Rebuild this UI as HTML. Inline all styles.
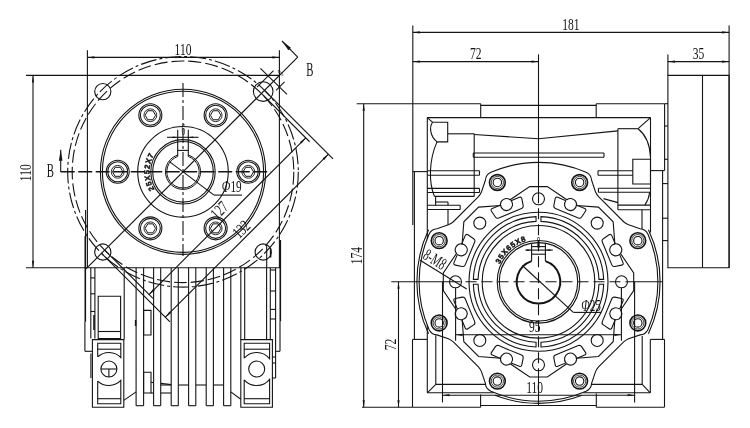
<!DOCTYPE html>
<html><head><meta charset="utf-8"><title>Gearbox outline drawing</title>
<style>
html,body{margin:0;padding:0;background:#fff;}
body{width:750px;height:428px;overflow:hidden;}
svg{display:block;filter:grayscale(1);}
svg *{vector-effect:none;}
.g line,.g circle,.g path,.g polyline{fill:none;stroke:#141414;stroke-width:1.1;}
.g .fl{fill:#141414;stroke:none;}
.g text{fill:#141414;stroke:none;font-family:"Liberation Serif","DejaVu Serif",serif;}
.g text.b{font-family:"Liberation Sans","DejaVu Sans",sans-serif;font-weight:bold;stroke:#141414;stroke-width:0.45;}
</style></head>
<body>
<svg width="750" height="428" viewBox="0 0 750 428">
<rect x="0" y="0" width="750" height="428" fill="#fff"/>
<g class="g">
<!-- left view -->
<line x1="87.4" y1="50.3" x2="87.4" y2="267.8"/>
<line x1="279.4" y1="50.3" x2="279.4" y2="267.8"/>
<line x1="280.3" y1="240" x2="280.3" y2="321.5" style="stroke-width:1.6"/>
<line x1="280" y1="321.5" x2="280" y2="351.3"/>
<line x1="26" y1="75.4" x2="279.4" y2="75.4"/>
<line x1="26" y1="267.8" x2="280.4" y2="267.8"/>
<line x1="87.4" y1="57.4" x2="279.4" y2="57.4"/>
<polygon class="fl" points="87.4,57.4 94.4,56.3 94.4,58.5"/>
<polygon class="fl" points="279.4,57.4 272.4,58.5 272.4,56.3"/>
<text class="t" transform="translate(183 54.9) scale(0.68 1)" font-size="17" text-anchor="middle">110</text>
<line x1="33" y1="75.4" x2="33" y2="267.8"/>
<polygon class="fl" points="33,75.4 34.1,82.4 31.9,82.4"/>
<polygon class="fl" points="33,267.8 31.9,260.8 34.1,260.8"/>
<text class="t" transform="translate(31 172.7) rotate(-90) scale(0.68 1)" font-size="17" text-anchor="middle">110</text>
<circle cx="183" cy="171.8" r="115.3" stroke-dasharray="16 3 3 3"/>
<circle cx="183" cy="171.8" r="110.8" stroke-dasharray="13 4"/>
<circle cx="183" cy="171.8" r="82.6"/>
<circle cx="183" cy="171.8" r="80.6"/>
<circle cx="183" cy="171.8" r="45.3"/>
<circle cx="183" cy="171.8" r="32.2"/>
<circle cx="183" cy="171.8" r="30.3"/>
<path d="M188.3 155.02A17.6 17.6 0 1 1 177.7 155.02" style="stroke-width:1;"/>
<path d="M188.3 156.49A16.2 16.2 0 1 1 177.7 156.49" style="stroke-width:1;"/>
<line x1="177.7" y1="129.8" x2="177.7" y2="156.49"/>
<line x1="188.3" y1="129.8" x2="188.3" y2="156.49"/>
<line x1="177.7" y1="150.4" x2="188.3" y2="150.4"/>
<line x1="167" y1="137.3" x2="198.5" y2="137.3"/>
<polygon class="fl" points="177.7,137.3 172.7,138.2 172.7,136.4"/>
<polygon class="fl" points="188.3,137.3 193.3,136.4 193.3,138.2"/>
<text class="t" transform="translate(183.3 135) scale(0.42 1)" font-size="17" text-anchor="middle">6</text>
<circle cx="248.3" cy="171.8" r="11.5"/>
<circle cx="248.3" cy="171.8" r="10"/>
<circle cx="248.3" cy="171.8" r="6.4" style="stroke-width:0.9"/>
<path d="M253.5 171.8L250.9 167.3L245.7 167.3L243.1 171.8L245.7 176.3L250.9 176.3Z" style="stroke-width:1;"/>
<circle cx="215.65" cy="115.25" r="11.5"/>
<circle cx="215.65" cy="115.25" r="10"/>
<circle cx="215.65" cy="115.25" r="6.4" style="stroke-width:0.9"/>
<path d="M220.85 115.25L218.25 110.75L213.05 110.75L210.45 115.25L213.05 119.75L218.25 119.75Z" style="stroke-width:1;"/>
<circle cx="150.35" cy="115.25" r="11.5"/>
<circle cx="150.35" cy="115.25" r="10"/>
<circle cx="150.35" cy="115.25" r="6.4" style="stroke-width:0.9"/>
<path d="M155.55 115.25L152.95 110.75L147.75 110.75L145.15 115.25L147.75 119.75L152.95 119.75Z" style="stroke-width:1;"/>
<circle cx="117.7" cy="171.8" r="11.5"/>
<circle cx="117.7" cy="171.8" r="10"/>
<circle cx="117.7" cy="171.8" r="6.4" style="stroke-width:0.9"/>
<path d="M122.9 171.8L120.3 167.3L115.1 167.3L112.5 171.8L115.1 176.3L120.3 176.3Z" style="stroke-width:1;"/>
<circle cx="150.35" cy="228.35" r="11.5"/>
<circle cx="150.35" cy="228.35" r="10"/>
<circle cx="150.35" cy="228.35" r="6.4" style="stroke-width:0.9"/>
<path d="M155.55 228.35L152.95 223.85L147.75 223.85L145.15 228.35L147.75 232.85L152.95 232.85Z" style="stroke-width:1;"/>
<circle cx="215.65" cy="228.35" r="11.5"/>
<circle cx="215.65" cy="228.35" r="10"/>
<circle cx="215.65" cy="228.35" r="6.4" style="stroke-width:0.9"/>
<path d="M220.85 228.35L218.25 223.85L213.05 223.85L210.45 228.35L213.05 232.85L218.25 232.85Z" style="stroke-width:1;"/>
<circle cx="102.8" cy="91.6" r="8.1"/>
<circle cx="102.8" cy="252" r="8.1"/>
<circle cx="263.2" cy="91.6" r="9.8"/>
<circle cx="263.2" cy="252" r="8.1"/>
<line x1="266.7" y1="244.6" x2="266.7" y2="267.8"/>
<line x1="270.6" y1="248.5" x2="270.6" y2="257.5" style="stroke-width:1.5"/>
<line x1="60.7" y1="171.8" x2="271" y2="171.8" style="stroke-width:1.4" stroke-dasharray="14 3.5"/>
<line x1="183" y1="83" x2="183" y2="256" stroke-dasharray="14 3 3 3"/>
<line x1="86" y1="268.8" x2="297.7" y2="57.2"/>
<line x1="297.7" y1="57.2" x2="282" y2="41"/>
<polygon class="fl" points="282,41 290.95,47.65 288.36,50.15"/>
<text class="t" transform="translate(309.8 75.7) scale(0.58 1)" font-size="18.5" text-anchor="middle">B</text>
<line x1="60.7" y1="172" x2="60.7" y2="149.7"/>
<polygon class="fl" points="60.7,149.7 62.5,160.7 58.9,160.7"/>
<text class="t" transform="translate(50.4 176.9) scale(0.58 1)" font-size="18.5" text-anchor="middle">B</text>
<line x1="260.4" y1="68.3" x2="287" y2="94.3"/>
<line x1="257" y1="87.2" x2="273.5" y2="70.6"/>
<line x1="276" y1="90.4" x2="284.5" y2="81.9"/>
<text class="t" transform="translate(283.2 75.6) rotate(-45) scale(0.45 1)" font-size="11" text-anchor="middle">0</text>
<line x1="261.35" y1="93.45" x2="309.64" y2="141.74"/>
<line x1="104.65" y1="250.15" x2="152.94" y2="298.44"/>
<line x1="149.05" y1="294.55" x2="305.75" y2="137.85"/>
<polygon class="fl" points="305.75,137.85 301.58,143.58 300.02,142.02"/>
<polygon class="fl" points="149.05,294.55 153.22,288.82 154.78,290.38"/>
<line x1="264.53" y1="90.27" x2="333.03" y2="158.77"/>
<line x1="101.47" y1="253.33" x2="169.97" y2="321.83"/>
<line x1="165.37" y1="317.23" x2="328.43" y2="154.17"/>
<polygon class="fl" points="328.43,154.17 324.26,159.9 322.7,158.34"/>
<polygon class="fl" points="165.37,317.23 169.54,311.5 171.1,313.06"/>
<text class="t" transform="translate(223.3 214.3) rotate(-45) scale(0.68 1)" font-size="17" text-anchor="middle">127</text>
<text class="t" transform="translate(245.3 233.2) rotate(-45) scale(0.68 1)" font-size="17" text-anchor="middle">132</text>
<line x1="169.4" y1="161.6" x2="214" y2="195.1"/>
<line x1="214" y1="195.1" x2="242" y2="195.1"/>
<text class="t" transform="translate(241.6 192.3) scale(0.66 1)" font-size="17" text-anchor="end"><tspan font-style="italic">Φ</tspan>19</text>
<path id="cv1" d="M154.44 189.3A33.5 33.5 0 0 1 157.34 150.27" style="stroke:none"/>
<text class="b" font-size="7.6" letter-spacing="0.75"><textPath href="#cv1">25X52X7</textPath></text>
<line x1="136.1" y1="267.8" x2="136.1" y2="405.7"/>
<line x1="143.6" y1="267.8" x2="143.6" y2="405.7"/>
<line x1="136.1" y1="405.7" x2="143.6" y2="405.7"/>
<line x1="153.6" y1="267.8" x2="153.6" y2="405.7"/>
<line x1="160.7" y1="267.8" x2="160.7" y2="405.7"/>
<line x1="153.6" y1="405.7" x2="160.7" y2="405.7"/>
<line x1="171.2" y1="267.8" x2="171.2" y2="405.7"/>
<line x1="178.3" y1="267.8" x2="178.3" y2="405.7"/>
<line x1="171.2" y1="405.7" x2="178.3" y2="405.7"/>
<line x1="188.6" y1="267.8" x2="188.6" y2="405.7"/>
<line x1="195.8" y1="267.8" x2="195.8" y2="405.7"/>
<line x1="188.6" y1="405.7" x2="195.8" y2="405.7"/>
<line x1="206.2" y1="267.8" x2="206.2" y2="405.7"/>
<line x1="213.4" y1="267.8" x2="213.4" y2="405.7"/>
<line x1="206.2" y1="405.7" x2="213.4" y2="405.7"/>
<line x1="223.6" y1="267.8" x2="223.6" y2="405.7"/>
<line x1="230.8" y1="267.8" x2="230.8" y2="405.7"/>
<line x1="223.6" y1="405.7" x2="230.8" y2="405.7"/>
<line x1="160.7" y1="385" x2="171.2" y2="385"/>
<line x1="178.3" y1="385" x2="188.6" y2="385"/>
<line x1="195.8" y1="385" x2="206.2" y2="385"/>
<line x1="213.4" y1="385" x2="223.6" y2="385"/>
<path d="M143.6 310.4H151V335H143.6Z"/>
<path d="M143.6 372.2H151V393H143.6Z"/>
<line x1="151" y1="382.3" x2="153.6" y2="382.6"/>
<line x1="160.7" y1="383.4" x2="171.2" y2="384.6"/>
<line x1="151" y1="393" x2="153.6" y2="393"/>
<line x1="160.7" y1="393" x2="171.2" y2="393"/>
<line x1="135.6" y1="320" x2="135.6" y2="326" style="stroke-width:1.5"/>
<line x1="123.8" y1="400.4" x2="136.1" y2="391.9"/>
<line x1="230.8" y1="391.9" x2="240.8" y2="399.3"/>
<line x1="85.6" y1="210" x2="85.6" y2="238"/>
<line x1="85.3" y1="236" x2="85.3" y2="321.8" style="stroke-width:1.6"/>
<line x1="84.9" y1="321.8" x2="84.9" y2="351.3"/>
<line x1="84.9" y1="351.3" x2="92.4" y2="351.3"/>
<line x1="90.8" y1="267.8" x2="90.8" y2="338.6"/>
<line x1="94.9" y1="267.8" x2="94.9" y2="338.6"/>
<line x1="90.8" y1="277.9" x2="94.9" y2="277.9"/>
<line x1="90.8" y1="293.8" x2="94.9" y2="293.8"/>
<line x1="90.8" y1="311.5" x2="94.9" y2="311.5"/>
<line x1="94" y1="315" x2="94" y2="330" style="stroke-width:1.6"/>
<line x1="90.9" y1="353.5" x2="90.9" y2="378"/>
<path d="M98.2 296.2H120.6V338.6H98.2Z"/>
<line x1="98.2" y1="331.5" x2="120.6" y2="331.5"/>
<line x1="124.2" y1="267.8" x2="124.2" y2="339.6"/>
<line x1="240.8" y1="267.8" x2="240.8" y2="339.6"/>
<line x1="244.7" y1="267.8" x2="244.7" y2="339.6"/>
<line x1="266.6" y1="267.8" x2="266.6" y2="339.6"/>
<line x1="270.3" y1="267.8" x2="270.3" y2="339.6"/>
<line x1="275.6" y1="267.8" x2="275.6" y2="378"/>
<line x1="270.3" y1="270" x2="275.6" y2="270"/>
<line x1="270.3" y1="291" x2="275.6" y2="291"/>
<line x1="270.3" y1="309.4" x2="275.6" y2="309.4"/>
<line x1="270.3" y1="319" x2="275.6" y2="319"/>
<line x1="272.4" y1="357" x2="275.6" y2="357"/>
<line x1="272.4" y1="363" x2="275.6" y2="363"/>
<line x1="272.4" y1="378" x2="275.6" y2="378"/>
<line x1="275.6" y1="351.3" x2="280" y2="351.3"/>
<path d="M92.4 339.6H123.8V407.2H92.4Z"/>
<path d="M97.7 356.88V343.2H120.8V357.57A16.5 16.5 0 0 0 97.7 356.88"/>
<line x1="97.7" y1="349.2" x2="120.8" y2="349.2"/>
<path d="M97.7 381.12V403.8H120.8V380.43A16.5 16.5 0 0 1 97.7 381.12"/>
<line x1="97.7" y1="398.7" x2="120.8" y2="398.7"/>
<circle cx="108.9" cy="369" r="8"/>
<line x1="100.9" y1="369" x2="116.9" y2="369"/>
<line x1="108.9" y1="369" x2="108.9" y2="377"/>
<path d="M240.8 339.6H272.4V407.2H240.8Z"/>
<path d="M244.2 358.23V343.2H269.6V358.71A16.5 16.5 0 0 0 244.2 358.23"/>
<line x1="244.2" y1="349.2" x2="269.6" y2="349.2"/>
<path d="M244.2 379.77V403.8H269.6V379.29A16.5 16.5 0 0 1 244.2 379.77"/>
<line x1="244.2" y1="398.7" x2="269.6" y2="398.7"/>
<circle cx="256.7" cy="369" r="8"/>
<!-- right view -->
<path d="M667.9 75.4H729.1V267.7H667.9Z"/>
<line x1="702.5" y1="75.4" x2="702.5" y2="267.7"/>
<line x1="412.8" y1="103.7" x2="480.7" y2="103.7"/>
<line x1="480.7" y1="103.7" x2="480.7" y2="117.6"/>
<line x1="480.7" y1="105.4" x2="596.2" y2="105.4"/>
<line x1="596.2" y1="103.7" x2="596.2" y2="117.6"/>
<line x1="596.2" y1="103.7" x2="664.6" y2="103.7"/>
<line x1="427.3" y1="117.6" x2="650.5" y2="117.6"/>
<line x1="412.8" y1="171.6" x2="427.3" y2="171.6"/>
<line x1="427.3" y1="117.6" x2="427.3" y2="392.8"/>
<line x1="427.3" y1="117.6" x2="432.7" y2="122.3"/>
<path d="M432.7 122.3H447.7V141.9H437C429.8 136 429.3 127 432.5 122.3"/>
<path d="M437 141.9C429 160 428.5 182 434.4 196.4"/>
<line x1="447.7" y1="133.8" x2="474.2" y2="133.8"/>
<line x1="474.2" y1="133.8" x2="474.2" y2="196.4"/>
<line x1="434.4" y1="196.4" x2="474.2" y2="196.4"/>
<path d="M474.2 134.5L538.5 138.7L617.9 130.9"/>
<line x1="473.3" y1="153" x2="604" y2="153"/>
<line x1="473.3" y1="157.3" x2="604" y2="157.3"/>
<line x1="473.3" y1="153" x2="473.3" y2="157.3"/>
<line x1="604" y1="153" x2="604" y2="157.3"/>
<line x1="427.3" y1="170.8" x2="479.5" y2="170.8"/>
<line x1="427.3" y1="175.2" x2="479.5" y2="175.2"/>
<line x1="479.5" y1="170.8" x2="479.5" y2="175.2"/>
<line x1="427.3" y1="188.4" x2="479.5" y2="188.4"/>
<line x1="427.3" y1="192.5" x2="479.5" y2="192.5"/>
<line x1="479.5" y1="188.4" x2="479.5" y2="192.5"/>
<line x1="427.3" y1="205.2" x2="460.2" y2="205.2"/>
<line x1="427.3" y1="209.5" x2="460.2" y2="209.5"/>
<line x1="460.2" y1="205.2" x2="460.2" y2="209.5"/>
<line x1="435.6" y1="196.4" x2="435.6" y2="205.2"/>
<line x1="435.6" y1="202" x2="448" y2="202"/>
<line x1="448" y1="202" x2="448" y2="205.2"/>
<line x1="448" y1="209.5" x2="448" y2="228"/>
<line x1="664.6" y1="103.7" x2="664.6" y2="170.6"/>
<line x1="650.5" y1="117.6" x2="650.5" y2="232.5"/>
<line x1="650.5" y1="117.6" x2="638.1" y2="128.7"/>
<line x1="617.9" y1="128.7" x2="638.1" y2="128.7"/>
<line x1="617.9" y1="128.7" x2="617.9" y2="209.8"/>
<path d="M638.1 128.7C646 135 650 146 650.5 157"/>
<path d="M632.8 159.3H650.5V184H632.8Z"/>
<line x1="598" y1="170.7" x2="632.8" y2="170.7"/>
<line x1="598" y1="175.2" x2="632.8" y2="175.2"/>
<line x1="598" y1="170.7" x2="598" y2="175.2"/>
<line x1="650.5" y1="170.6" x2="664.6" y2="170.6"/>
<line x1="662.6" y1="170.6" x2="662.6" y2="339.4"/>
<line x1="598.4" y1="188.3" x2="650.5" y2="188.3"/>
<line x1="598.4" y1="192.2" x2="650.5" y2="192.2"/>
<line x1="598.4" y1="188.3" x2="598.4" y2="192.2"/>
<line x1="603.5" y1="198.6" x2="617.9" y2="202.6"/>
<path d="M649.7 192.2C649 198 647 202 644.9 205.1"/>
<line x1="617.9" y1="205.1" x2="650.5" y2="205.1"/>
<line x1="617.9" y1="209.8" x2="650.5" y2="209.8"/>
<line x1="642" y1="209.8" x2="642" y2="230.5"/>
<line x1="664.6" y1="103.7" x2="667.9" y2="103.7"/>
<line x1="664.6" y1="126" x2="667.9" y2="126"/>
<line x1="664.6" y1="159.3" x2="667.9" y2="159.3"/>
<line x1="662.6" y1="183.6" x2="667.9" y2="183.6"/>
<line x1="662.6" y1="218.2" x2="667.9" y2="218.2"/>
<line x1="662.6" y1="240.6" x2="667.9" y2="240.6"/>
<line x1="650.3" y1="339.4" x2="664.5" y2="339.4"/>
<line x1="664.5" y1="339.4" x2="664.5" y2="407.2"/>
<line x1="650.3" y1="339.4" x2="650.3" y2="392.8"/>
<line x1="642.2" y1="336" x2="642.2" y2="384.4"/>
<line x1="412.5" y1="339.4" x2="427.3" y2="339.4"/>
<line x1="435.8" y1="335.2" x2="435.8" y2="384.4"/>
<line x1="412.8" y1="407.2" x2="480.6" y2="407.2"/>
<line x1="480.6" y1="394.4" x2="480.6" y2="407.2"/>
<line x1="480.6" y1="405.5" x2="596.3" y2="405.5"/>
<line x1="596.3" y1="393.6" x2="596.3" y2="407.2"/>
<line x1="596.3" y1="407.2" x2="664.5" y2="407.2"/>
<line x1="427.3" y1="392.8" x2="494" y2="392.8"/>
<line x1="583" y1="392.8" x2="650.3" y2="392.8"/>
<line x1="435.8" y1="384.4" x2="485.6" y2="384.4"/>
<line x1="591.4" y1="384.4" x2="642.2" y2="384.4"/>
<line x1="435.8" y1="384.4" x2="427.3" y2="392.8"/>
<line x1="642.2" y1="384.4" x2="650.3" y2="392.8"/>
<path d="M648 329.41A119.4 119.4 0 0 0 648 234.19Q645.45 228.94 640.06 228.71L628.6 224.84Q625.96 223.69 623.65 221.74L598.56 196.65Q596.61 194.34 595.46 191.7L591.59 180.24Q591.36 174.85 586.11 172.3L586.11 172.3A119.4 119.4 0 0 0 490.89 172.3Q485.64 174.85 485.41 180.24L481.54 191.7Q480.39 194.34 478.44 196.65L453.35 221.74Q451.04 223.69 448.4 224.84L436.94 228.71Q431.55 228.94 429 234.19L429 234.19A119.4 119.4 0 0 0 429 329.41Q431.55 334.66 436.94 334.89L448.4 338.76Q451.04 339.91 453.35 341.86L478.44 366.95Q480.39 369.26 481.54 371.9L485.41 383.36Q485.64 388.75 490.89 391.3L490.89 391.3A119.4 119.4 0 0 0 586.11 391.3Q591.36 388.75 591.59 383.36L595.46 371.9Q596.61 369.26 598.56 366.95L623.65 341.86Q625.96 339.91 628.6 338.76L640.06 334.89Q645.45 334.66 648 329.41Z" style="fill:#fff;"/>
<path d="M648.44 333.77A121.6 121.6 0 0 0 648.44 229.83"/>
<path d="M428.56 229.83A121.6 121.6 0 0 0 428.56 333.77"/>
<path d="M494.92 395.32A121.6 121.6 0 0 0 582.08 395.32"/>
<path d="M633.7 290.6L633.7 273L620.5 253.46A6 6 0 0 0 614.85 243.87L613.17 221.84L598.46 207.13L576.43 205.45A6 6 0 0 0 566.84 199.8L547.3 186.6L529.7 186.6L510.16 199.8A6 6 0 0 0 500.57 205.45L478.54 207.13L463.83 221.84L462.15 243.87A6 6 0 0 0 456.5 253.46L443.3 273L443.3 290.6L456.5 310.14A6 6 0 0 0 462.15 319.73L463.83 341.76L478.54 356.47L500.57 358.15A6 6 0 0 0 510.16 363.8L529.7 377L547.3 377L566.84 363.8A6 6 0 0 0 576.43 358.15L598.46 356.47L613.17 341.76L614.85 319.73A6 6 0 0 0 620.5 310.14Z"/>
<path d="M615.21 243.83L611.81 235.63Q610.97 233.6 609.1 234.83L603.34 238.69Q601.46 239.92 602.31 241.95L611.8 264.86Q612.64 266.89 614.83 266.44L621.64 265.1Q623.83 264.64 622.99 262.61L619.59 254.41A6 6 0 1 1 615.21 243.83"/>
<path d="M565.89 200.71L557.69 197.31Q555.66 196.47 555.2 198.66L553.86 205.47Q553.41 207.66 555.44 208.5L578.35 217.99Q580.38 218.84 581.61 216.96L585.47 211.2Q586.7 209.33 584.67 208.49L576.47 205.09A6 6 0 1 1 565.89 200.71"/>
<path d="M500.53 205.09L492.33 208.49Q490.3 209.33 491.53 211.2L495.39 216.96Q496.62 218.84 498.65 217.99L521.56 208.5Q523.59 207.66 523.14 205.47L521.8 198.66Q521.34 196.47 519.31 197.31L511.11 200.71A6 6 0 1 1 500.53 205.09"/>
<path d="M457.41 254.41L454.01 262.61Q453.17 264.64 455.36 265.1L462.17 266.44Q464.36 266.89 465.2 264.86L474.69 241.95Q475.54 239.92 473.66 238.69L467.9 234.83Q466.03 233.6 465.19 235.63L461.79 243.83A6 6 0 1 1 457.41 254.41"/>
<path d="M461.79 319.77L465.19 327.97Q466.03 330 467.9 328.77L473.66 324.91Q475.54 323.68 474.69 321.65L465.2 298.74Q464.36 296.71 462.17 297.16L455.36 298.5Q453.17 298.96 454.01 300.99L457.41 309.19A6 6 0 1 1 461.79 319.77"/>
<path d="M511.11 362.89L519.31 366.29Q521.34 367.13 521.8 364.94L523.14 358.13Q523.59 355.94 521.56 355.1L498.65 345.61Q496.62 344.76 495.39 346.64L491.53 352.4Q490.3 354.27 492.33 355.11L500.53 358.51A6 6 0 1 1 511.11 362.89"/>
<path d="M576.47 358.51L584.67 355.11Q586.7 354.27 585.47 352.4L581.61 346.64Q580.38 344.76 578.35 345.61L555.44 355.1Q553.41 355.94 553.86 358.13L555.2 364.94Q555.66 367.13 557.69 366.29L565.89 362.89A6 6 0 1 1 576.47 358.51"/>
<path d="M619.59 309.19L622.99 300.99Q623.83 298.96 621.64 298.5L614.83 297.16Q612.64 296.71 611.8 298.74L602.31 321.65Q601.46 323.68 603.34 324.91L609.1 328.77Q610.97 330 611.81 327.97L615.21 319.77A6 6 0 1 1 619.59 309.19"/>
<circle cx="621.5" cy="281.8" r="6"/>
<circle cx="597.19" cy="223.11" r="6"/>
<circle cx="538.5" cy="198.8" r="6"/>
<circle cx="479.81" cy="223.11" r="6"/>
<circle cx="455.5" cy="281.8" r="6"/>
<circle cx="479.81" cy="340.49" r="6"/>
<circle cx="538.5" cy="364.8" r="6"/>
<circle cx="597.19" cy="340.49" r="6"/>
<circle cx="637.82" cy="240.66" r="7.9" style="stroke-width:1.6"/>
<circle cx="637.82" cy="240.66" r="6.1" style="stroke-width:0.8"/>
<circle cx="637.82" cy="240.66" r="4.2" style="stroke-width:1.1"/>
<circle cx="579.64" cy="182.48" r="7.9" style="stroke-width:1.6"/>
<circle cx="579.64" cy="182.48" r="6.1" style="stroke-width:0.8"/>
<circle cx="579.64" cy="182.48" r="4.2" style="stroke-width:1.1"/>
<circle cx="497.36" cy="182.48" r="7.9" style="stroke-width:1.6"/>
<circle cx="497.36" cy="182.48" r="6.1" style="stroke-width:0.8"/>
<circle cx="497.36" cy="182.48" r="4.2" style="stroke-width:1.1"/>
<circle cx="439.18" cy="240.66" r="7.9" style="stroke-width:1.6"/>
<circle cx="439.18" cy="240.66" r="6.1" style="stroke-width:0.8"/>
<circle cx="439.18" cy="240.66" r="4.2" style="stroke-width:1.1"/>
<circle cx="439.18" cy="322.94" r="7.9" style="stroke-width:1.6"/>
<circle cx="439.18" cy="322.94" r="6.1" style="stroke-width:0.8"/>
<circle cx="439.18" cy="322.94" r="4.2" style="stroke-width:1.1"/>
<circle cx="497.36" cy="381.12" r="7.9" style="stroke-width:1.6"/>
<circle cx="497.36" cy="381.12" r="6.1" style="stroke-width:0.8"/>
<circle cx="497.36" cy="381.12" r="4.2" style="stroke-width:1.1"/>
<circle cx="579.64" cy="381.12" r="7.9" style="stroke-width:1.6"/>
<circle cx="579.64" cy="381.12" r="6.1" style="stroke-width:0.8"/>
<circle cx="579.64" cy="381.12" r="4.2" style="stroke-width:1.1"/>
<circle cx="637.82" cy="322.94" r="7.9" style="stroke-width:1.6"/>
<circle cx="637.82" cy="322.94" r="6.1" style="stroke-width:0.8"/>
<circle cx="637.82" cy="322.94" r="4.2" style="stroke-width:1.1"/>
<circle cx="538.5" cy="281.8" r="69.5"/>
<circle cx="538.5" cy="281.8" r="56.3"/>
<path d="M603.65 279.35A65.2 65.2 0 0 0 540.95 216.65L540.95 221.35A60.5 60.5 0 0 1 598.95 279.35Z"/>
<path d="M536.05 216.65A65.2 65.2 0 0 0 473.35 279.35L478.05 279.35A60.5 60.5 0 0 1 536.05 221.35Z"/>
<path d="M473.35 284.25A65.2 65.2 0 0 0 536.05 346.95L536.05 342.25A60.5 60.5 0 0 1 478.05 284.25Z"/>
<path d="M540.95 346.95A65.2 65.2 0 0 0 603.65 284.25L598.95 284.25A60.5 60.5 0 0 1 540.95 342.25Z"/>
<circle cx="538.5" cy="281.8" r="41.3"/>
<circle cx="538.5" cy="281.8" r="39.2"/>
<path d="M545.4 261.12A21.8 21.8 0 1 1 531.6 261.12" style="stroke-width:2;"/>
<line x1="531.6" y1="243.7" x2="531.6" y2="261.12" style="stroke-width:1.1"/>
<line x1="545.4" y1="243.7" x2="545.4" y2="261.12" style="stroke-width:1.1"/>
<line x1="531.6" y1="254.2" x2="545.4" y2="254.2" style="stroke-width:1.1"/>
<line x1="531.6" y1="246.6" x2="545.4" y2="246.6"/>
<line x1="525.3" y1="250.1" x2="552.8" y2="250.1"/>
<polygon class="fl" points="531.6,250.1 526.6,251 526.6,249.2"/>
<polygon class="fl" points="545.4,250.1 550.4,249.2 550.4,251"/>
<text class="t" transform="translate(538.6 248) scale(0.42 1)" font-size="17" text-anchor="middle">8</text>
<line x1="449.5" y1="281.8" x2="627.4" y2="281.8" stroke-dasharray="11 5"/>
<line x1="627.4" y1="281.8" x2="662.6" y2="281.8"/>
<line x1="538.5" y1="54.4" x2="538.5" y2="192.3"/>
<line x1="538.5" y1="192.3" x2="538.5" y2="370" stroke-dasharray="11 5"/>
<line x1="538.5" y1="370" x2="538.5" y2="405.5"/>
<line x1="522.3" y1="265.5" x2="573.3" y2="312.4"/>
<line x1="573.3" y1="312.4" x2="601.3" y2="312.4"/>
<text class="t" transform="translate(600.9 310.7) scale(0.66 1)" font-size="17" text-anchor="end"><tspan font-style="italic">Φ</tspan>25</text>
<line x1="420.1" y1="260.2" x2="466.7" y2="289"/>
<text class="t" transform="translate(422 258) rotate(31.7) scale(0.62 1)" font-size="17" text-anchor="start">8-M8</text>
<path id="cv2" d="M499.74 264.13A42.6 42.6 0 0 1 534.79 239.36" style="stroke:none"/>
<text class="b" font-size="7.6" letter-spacing="0.75"><textPath href="#cv2">35X65X8</textPath></text>
<line x1="412.8" y1="25.4" x2="412.8" y2="225"/>
<line x1="414.4" y1="171.6" x2="414.4" y2="339.4"/>
<line x1="412.5" y1="339.4" x2="412.5" y2="407.2"/>
<line x1="729.1" y1="25.4" x2="729.1" y2="267.7"/>
<line x1="412.8" y1="32.4" x2="729.1" y2="32.4"/>
<polygon class="fl" points="412.8,32.4 419.8,31.3 419.8,33.5"/>
<polygon class="fl" points="729.1,32.4 722.1,33.5 722.1,31.3"/>
<text class="t" transform="translate(570.9 30.2) scale(0.68 1)" font-size="17" text-anchor="middle">181</text>
<line x1="412.8" y1="61.6" x2="538.5" y2="61.6"/>
<polygon class="fl" points="412.8,61.6 419.8,60.5 419.8,62.7"/>
<polygon class="fl" points="538.5,61.6 531.5,62.7 531.5,60.5"/>
<text class="t" transform="translate(475.8 59.4) scale(0.68 1)" font-size="17" text-anchor="middle">72</text>
<line x1="667.9" y1="54.4" x2="667.9" y2="75.4"/>
<line x1="667.9" y1="61.6" x2="729.1" y2="61.6"/>
<polygon class="fl" points="667.9,61.6 674.9,60.5 674.9,62.7"/>
<polygon class="fl" points="729.1,61.6 722.1,62.7 722.1,60.5"/>
<text class="t" transform="translate(698.5 59.4) scale(0.68 1)" font-size="17" text-anchor="middle">35</text>
<line x1="356.7" y1="103.7" x2="412.8" y2="103.7"/>
<line x1="362" y1="407.2" x2="412.8" y2="407.2"/>
<line x1="363.7" y1="103.7" x2="363.7" y2="407.2"/>
<polygon class="fl" points="363.7,103.7 364.8,110.7 362.6,110.7"/>
<polygon class="fl" points="363.7,407.2 362.6,400.2 364.8,400.2"/>
<text class="t" transform="translate(361.8 255.7) rotate(-90) scale(0.68 1)" font-size="17" text-anchor="middle">174</text>
<line x1="391.3" y1="281.8" x2="449.5" y2="281.8"/>
<line x1="398.5" y1="281.8" x2="398.5" y2="407.2"/>
<polygon class="fl" points="398.5,281.8 399.6,288.8 397.4,288.8"/>
<polygon class="fl" points="398.5,407.2 397.4,400.2 399.6,400.2"/>
<text class="t" transform="translate(396.4 344.5) rotate(-90) scale(0.68 1)" font-size="17" text-anchor="middle">72</text>
<line x1="455.6" y1="288" x2="455.6" y2="340.7"/>
<line x1="621.4" y1="288" x2="621.4" y2="340.7"/>
<line x1="455.6" y1="334.8" x2="621.4" y2="334.8"/>
<polygon class="fl" points="455.6,334.8 462.6,333.7 462.6,335.9"/>
<polygon class="fl" points="621.4,334.8 614.4,335.9 614.4,333.7"/>
<text class="t" transform="translate(534.8 332.2) scale(0.68 1)" font-size="17" text-anchor="middle">95</text>
<line x1="442.5" y1="281.8" x2="442.5" y2="402.4"/>
<line x1="634.6" y1="281.8" x2="634.6" y2="402.4"/>
<line x1="442.5" y1="395.2" x2="634.6" y2="395.2"/>
<polygon class="fl" points="442.5,395.2 449.5,394.1 449.5,396.3"/>
<polygon class="fl" points="634.6,395.2 627.6,396.3 627.6,394.1"/>
<text class="t" transform="translate(534.6 392.8) scale(0.68 1)" font-size="17" text-anchor="middle">110</text>
</g>
</svg>
</body></html>
